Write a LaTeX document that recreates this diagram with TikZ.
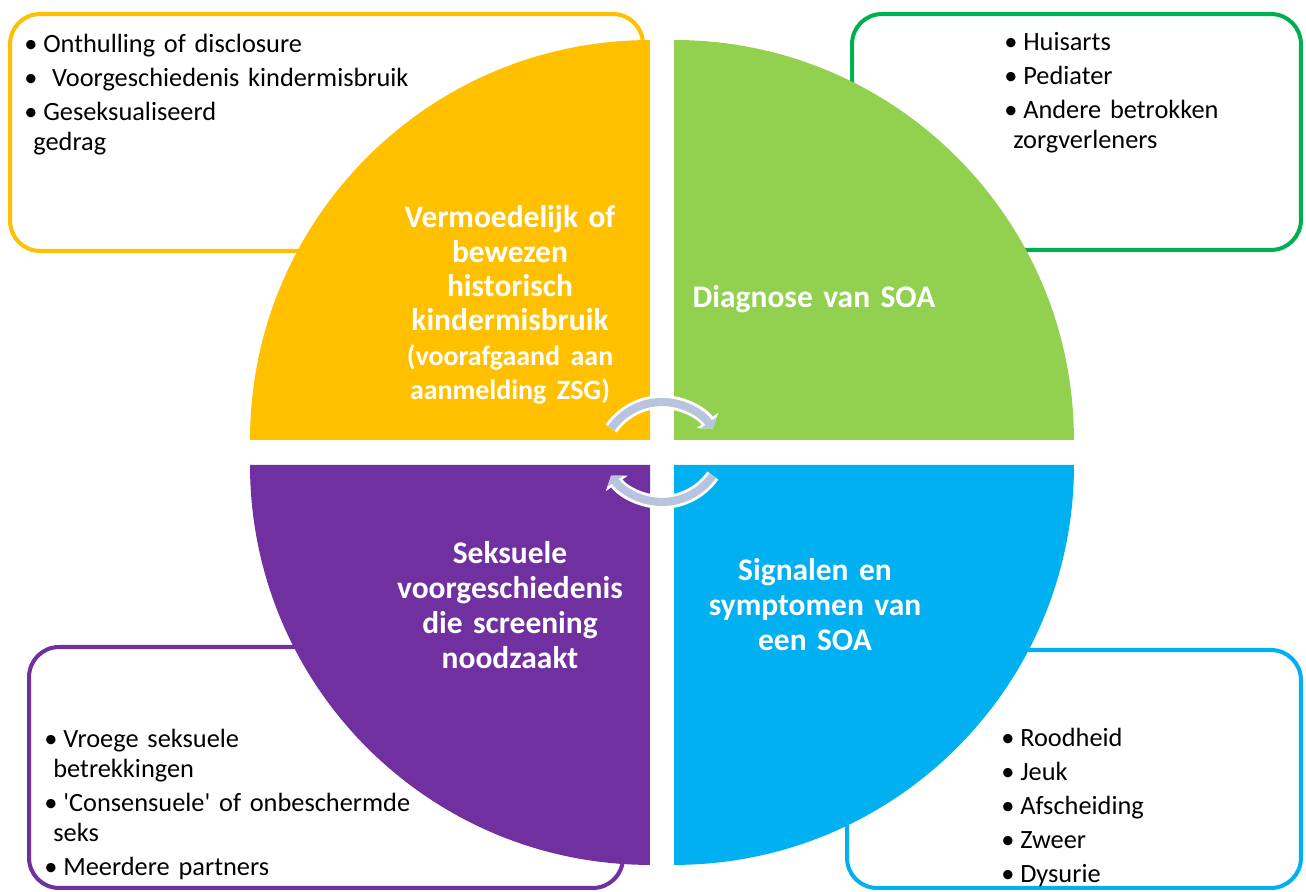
\documentclass[tikz,border=0pt]{standalone}
\usepackage{fontspec}
\setmainfont{Carlito}
\usepackage{xcolor}
\usepackage{tikz}
\usetikzlibrary{arrows.meta}
\definecolor{qorange}{HTML}{FFC000}
\definecolor{qgreen}{HTML}{92D050}
\definecolor{qpurple}{HTML}{7030A0}
\definecolor{qblue}{HTML}{00B0F0}
\definecolor{bgreen}{HTML}{00B050}
\definecolor{cyclegray}{HTML}{B8C3DD}
\newcommand{\blt}{•\hspace{0.22em}}
\tikzset{
    mybox/.style = {rectangle, rounded corners=0.6cm, line width=2.3pt, fill=white, inner sep=0pt},
    mytitle/.style = {text=white, align=center, inner sep=0pt, text width=6cm, anchor=base, font=\fontsize{17.9}{19.5}\selectfont\bfseries},
    mylist/.style = {align=left, inner sep=0pt, anchor=base west, text width=11cm, font=\fontsize{15}{17}\selectfont},
}

\begin{document}
\begin{tikzpicture}[
	x=0.02cm,
	y=0.02cm
]
\tikzset{
    cycleback/.style = {line width=7.8pt, white, -{Triangle[length=5.5pt,width=15pt]}},
    cyclefront/.style = {line width=4.6pt, cyclegray, -{Triangle[length=4pt,width=11pt]}}
}
\useasboundingbox (0,0) rectangle (1306,892);
% boxes behind
\node[mybox, draw=qorange, minimum width=12.66cm, minimum height=4.74cm] at (326.5,759.5) (boxtl) {};
\node[mybox, draw=bgreen, minimum width=8.98cm, minimum height=4.72cm] at (1076.5,760) (boxtr) {};
\node[mybox, draw=qpurple, minimum width=11.88cm, minimum height=4.82cm] at (326,124.5) (boxbl) {};
\node[mybox, draw=qblue, minimum width=9.08cm, minimum height=4.76cm] at (1074,123) (boxbr) {};
%
\fill[qorange] (650,452) -- (250,452) arc (180:90:8cm) -- cycle;
\fill[qgreen] (674,452) -- (674,852) arc (90:0:8cm) -- cycle;
\fill[qpurple] (650,427) -- (250,427) arc (180:270:8cm) -- cycle;
\fill[qblue] (674,427) -- (1074,427) arc (0:-90:8cm) -- cycle;
%
\node[mylist] at (24,839) (listtl) {\blt Onthulling of disclosure\\[2.3pt]
  \blt\ Voorgeschiedenis kindermisbruik\\[2.3pt]
  \blt Geseksualiseerd\\ \hspace*{0.18cm}gedrag};
\node[mylist, text width=5.5cm] at (1004,841) (listtr) {\blt Huisarts\\[2.3pt]
  \blt Pediater\\[2.3pt]
  \blt Andere betrokken\\ \hspace*{0.18cm}zorgverleners};
\node[mylist] at (44,144) (listbl) {\blt Vroege seksuele\\ \hspace*{0.18cm}betrekkingen\\[2.3pt]
  \blt \textquotesingle Consensuele\textquotesingle{} of onbeschermde\\ \hspace*{0.18cm}seks\\[2.3pt]
  \blt Meerdere partners};
\node[mylist, text width=5.5cm] at (1001,145) (listbr) {\blt Roodheid\\[2.3pt]
  \blt Jeuk\\[2.3pt]
  \blt Afscheiding\\[2.3pt]
  \blt Zweer\\[2.3pt]
  \blt Dysurie};
%
\node[mytitle] at (510,664) (titletl) {Vermoedelijk of\\ bewezen\\ historisch\\ kindermisbruik\\
  {\fontsize{15.9}{19.5}\selectfont (voorafgaand aan\\ aanmelding ZSG)}};
\node[mytitle] at (814,584) (titletr) {Diagnose van SOA};
\node[mytitle, font=\fontsize{17.9}{19.8}\selectfont\bfseries] at (510,328) (titlebl) {Seksuele\\ voorgeschiedenis\\ die screening\\ noodzaakt};
\node[mytitle, font=\fontsize{17.9}{19.8}\selectfont\bfseries] at (815,311) (titlebr) {Signalen en\\ symptomen van\\ een SOA};
%
\coordinate (cyctop) at (662,428);
\coordinate (cycbot) at (662,452);
\draw[cycleback] ([shift={(145:1.24cm)}]cyctop) arc (145:35:1.24cm);
\draw[cyclefront] ([shift={(145:1.24cm)}]cyctop) arc (145:35:1.24cm);
\draw[cycleback] ([shift={(325:1.24cm)}]cycbot) arc (325:215:1.24cm);
\draw[cyclefront] ([shift={(325:1.24cm)}]cycbot) arc (325:215:1.24cm);
\end{tikzpicture}
\end{document}
